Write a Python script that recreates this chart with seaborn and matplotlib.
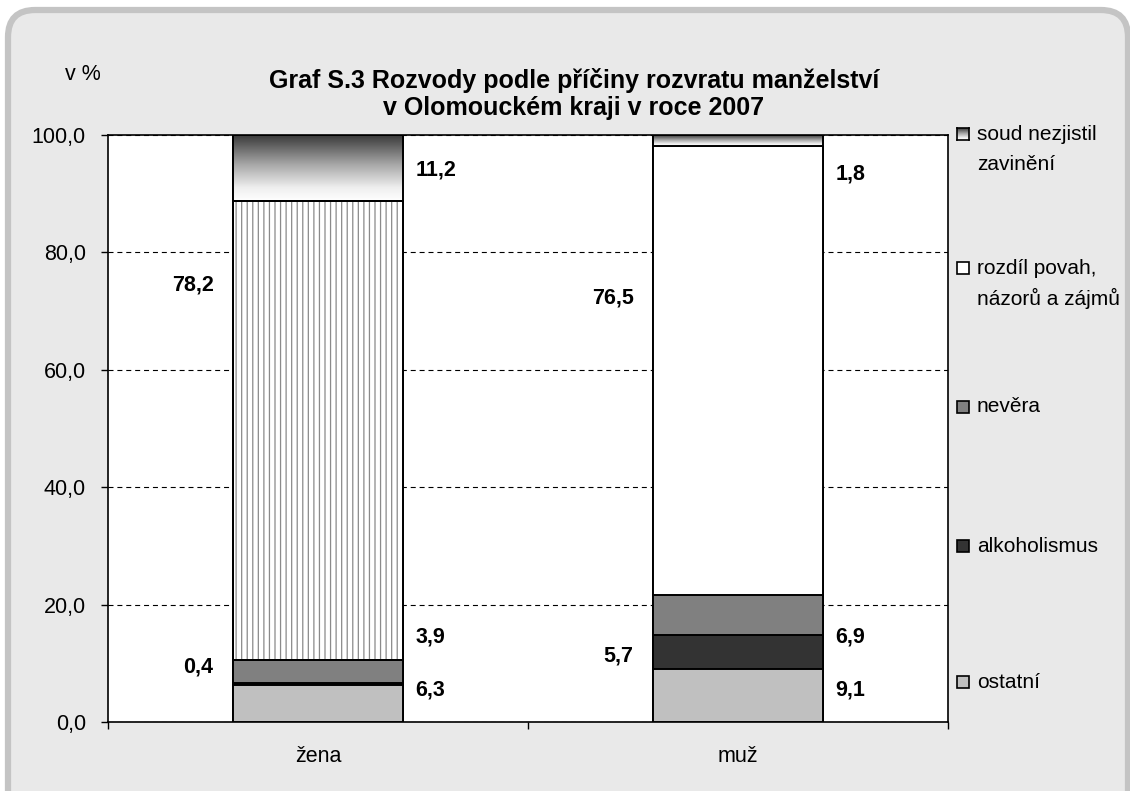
import numpy as np
import pandas as pd
import matplotlib
matplotlib.use("Agg")
import matplotlib.pyplot as plt
import seaborn as sns
from matplotlib.patches import Rectangle, FancyBboxPatch
from matplotlib.colors import LinearSegmentedColormap

# ---------------- data ----------------
categories = ["žena", "muž"]
causes = ["ostatní", "alkoholismus", "nevěra",
          "rozdíl povah,\nnázorů a zájmů", "soud nezjistil\nzavinění"]
zena = [6.3, 0.4, 3.9, 78.2, 11.2]
muz = [9.1, 5.7, 6.9, 76.5, 1.8]
yticks = [0, 20, 40, 60, 80, 100]
title = "Graf S.3 Rozvody podle příčiny rozvratu manželství\nv Olomouckém kraji v roce 2007"
unit = "v %"

# ---------------- layout / style ----------------
colors = ["#c0c0c0", "#333333", "#808080", "#ffffff", "#ffffff"]
# label placement: (side, y position in data units) per category, per cause
label_pos = {
    "žena": [("r", 5.4), ("l", 9.3), ("r", 14.5), ("l", 74.5), ("r", 94.0)],
    "muž": [("r", 5.4), ("l", 11.2), ("r", 14.5), ("l", 72.2), ("r", 93.3)],
}
W, H = 1130, 791
FONT = ["Liberation Sans", "DejaVu Sans"]

sns.set_theme(style="white")
plt.rcParams["font.family"] = FONT
plt.rcParams["hatch.linewidth"] = 0.9
for k in ["text.color", "axes.labelcolor", "xtick.color", "ytick.color"]:
    plt.rcParams[k] = "black"

fig = plt.figure(figsize=(W / 100, H / 100), dpi=100)
fig.patch.set_facecolor("white")

# rounded frame background
fx0, fx1, ftop = 8, 1128, 10
frame = FancyBboxPatch((fx0 / W, -40 / H), (fx1 - fx0) / W, (H - ftop + 40) / H,
                       boxstyle="round,pad=0,rounding_size=0.024",
                       transform=fig.transFigure, facecolor="#e9e9e9",
                       edgecolor="#c4c4c4", linewidth=4.5, zorder=-10,
                       mutation_aspect=W / H)
fig.patches.append(frame)

ax = fig.add_axes([108 / W, 1 - 722 / H, (948 - 108) / W, (722 - 135) / H])
ax.set_facecolor("white")

# long dataframe of cumulative tops
rows = []
vals = {"žena": zena, "muž": muz}
for cat in categories:
    cum = np.cumsum(vals[cat])
    for i, c in enumerate(causes):
        rows.append({"pohlaví": cat, "příčina": c, "hodnota": vals[cat][i],
                     "top": cum[i], "bottom": cum[i] - vals[cat][i]})
df = pd.DataFrame(rows)

BAR_W = 0.405
patches = {}
for i in reversed(range(len(causes))):
    sub = df[df["příčina"] == causes[i]]
    n0 = len(ax.patches)
    sns.barplot(data=sub, x="pohlaví", y="top", order=categories,
                color=colors[i], saturation=1, width=BAR_W,
                edgecolor="black", linewidth=1.4, errorbar=None, ax=ax,
                zorder=2)
    patches[i] = ax.patches[n0:]

grad_cmap = LinearSegmentedColormap.from_list(
    "g", [(0, "#3a3a3a"), (0.45, "#a8a8a8"), (0.8, "#efefef"), (1, "#ffffff")])
grad = np.linspace(0, 1, 256).reshape(-1, 1)

for j, cat in enumerate(categories):
    p = patches[4][j]
    x0 = p.get_x(); x1 = x0 + p.get_width()
    r = df[(df["pohlaví"] == cat) & (df["příčina"] == causes[4])].iloc[0]
    ax.imshow(grad, cmap=grad_cmap, aspect="auto",
              extent=[x0, x1, r["bottom"], r["top"]], origin="upper",
              zorder=2.5, interpolation="bilinear")
    ax.add_patch(Rectangle((x0, r["bottom"]), x1 - x0, r["hodnota"],
                           fill=False, edgecolor="black", lw=1.4, zorder=3))
# hatch on žena "rozdíl" segment
p = patches[3][0]
r = df[(df["pohlaví"] == "žena") & (df["příčina"] == causes[3])].iloc[0]
ax.add_patch(Rectangle((p.get_x(), r["bottom"]), p.get_width(), r["hodnota"],
                       facecolor="none", edgecolor="#8a8a8a", hatch="|||",
                       lw=0, zorder=2.6))
ax.add_patch(Rectangle((p.get_x(), r["bottom"]), p.get_width(), r["hodnota"],
                       fill=False, edgecolor="black", lw=1.4, zorder=3))
for i in range(3):
    for pp in patches[i]:
        pp.set_zorder(2.7)

# data labels
for j, cat in enumerate(categories):
    p = patches[4][j]
    x0 = p.get_x(); x1 = x0 + p.get_width()
    for i, c in enumerate(causes):
        side, yy = label_pos[cat][i]
        v = vals[cat][i]
        txt = f"{v:.1f}".replace(".", ",")
        if side == "r":
            ax.annotate(txt, (x1, yy), xytext=(9, 0), textcoords="offset points",
                        ha="left", va="center", fontsize=15.5, fontweight="bold")
        else:
            ax.annotate(txt, (x0, yy), xytext=(-14, 0), textcoords="offset points",
                        ha="right", va="center", fontsize=15.5, fontweight="bold")

# axes styling
ax.set_xlim(-0.5, 1.5)
ax.set_ylim(0, 100)
ax.set_yticks(yticks)
ax.set_yticklabels([f"{t:.1f}".replace(".", ",") for t in yticks], fontsize=15.5)
ax.set_xticks([-0.5, 0.5, 1.5])
ax.set_xticklabels([])
ax.set_xticks([0, 1], minor=True)
ax.set_xticklabels(categories, minor=True, fontsize=15.5)
ax.tick_params(axis="x", which="major", direction="out", length=5, width=1,
               color="black", bottom=True)
ax.tick_params(axis="x", which="minor", length=0, pad=17)
ax.tick_params(axis="y", direction="out", length=5, width=1, color="black",
               left=True, pad=11)
ax.set_xlabel("")
ax.set_ylabel("")
for s in ax.spines.values():
    s.set_visible(True)
    s.set_color("black")
    s.set_linewidth(1.2)
ax.yaxis.grid(True, color="black", linestyle=(0, (4.5, 3.5)), linewidth=0.8)
ax.xaxis.grid(False)
ax.set_axisbelow(True)

# title and unit
fig.text(574 / W, 1 - 94 / H, title, ha="center", va="center",
         fontsize=18, fontweight="bold", linespacing=1.12)
fig.text(83 / W, 1 - 75 / H, unit, ha="center", va="center", fontsize=15.5)

# legend (manual, reversed order)
leg_y = [682, 546, 407, 268, 134]
leg_fill = colors[:4] + [None]
for i in reversed(range(len(causes))):
    yc = leg_y[i]
    sq = 12
    if leg_fill[i] is None:
        lax = fig.add_axes([957 / W, 1 - (yc + sq / 2) / H, sq / W, sq / H])
        lax.imshow(grad, cmap=grad_cmap, aspect="auto", origin="upper",
                   extent=[0, 1, 0, 1])
        lax.set_xticks([]); lax.set_yticks([])
        for s in lax.spines.values():
            s.set_color("black"); s.set_linewidth(1.2); s.set_visible(True)
    else:
        fig.patches.append(Rectangle((957 / W, 1 - (yc + sq / 2) / H), sq / W, sq / H,
                                     transform=fig.transFigure,
                                     facecolor=leg_fill[i], edgecolor="black",
                                     lw=1.2))
    for k, line in enumerate(causes[i].split("\n")):
        fig.text(977 / W, 1 - (yc + k * 30) / H, line, ha="left",
                 va="center", fontsize=15)

fig.savefig("out.png", dpi=100, facecolor=fig.get_facecolor())
